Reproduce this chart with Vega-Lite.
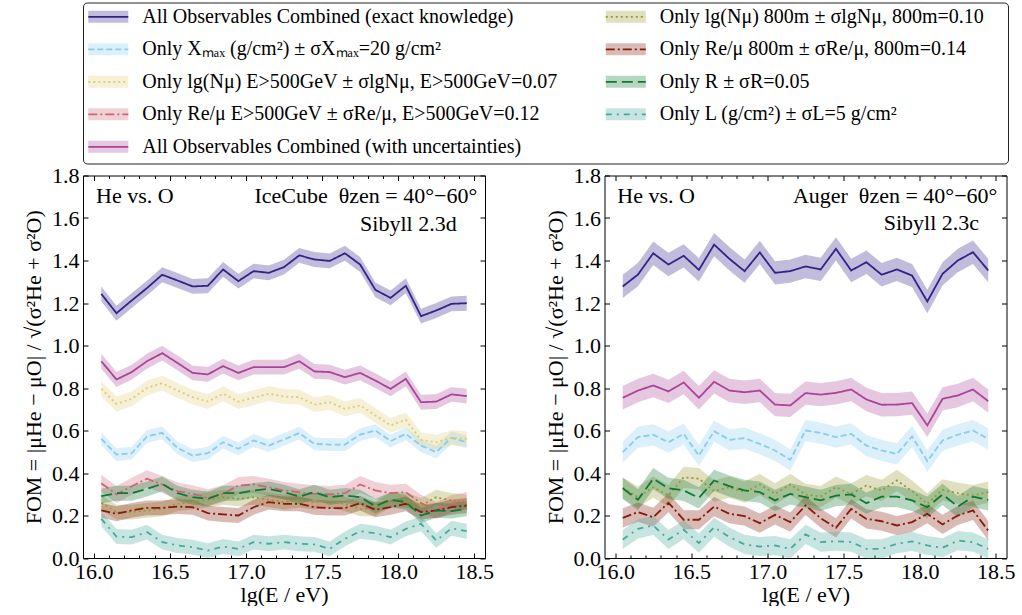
{
"$schema": "https://vega.github.io/schema/vega-lite/v6.json",
"padding": {"left": 22, "top": 1.5, "right": 0, "bottom": 0},
"config": {
  "font": "Liberation Serif",
  "view": {"stroke": "#000", "strokeWidth": 1},
  "axis": {"grid": false, "domain": false, "labelFontSize": 22, "titleFontSize": 22, "labelColor": "#000", "titleColor": "#000", "tickColor": "#000", "titleFontWeight": "normal", "labelFont": "Liberation Serif", "titleFont": "Liberation Serif", "tickWidth": 1, "labelOverlap": false, "labelFlush": false}
},
"datasets": {
"leg": [
{"s":"exact","c":0,"r":0,"t":"All Observables Combined (exact knowledge)"},
{"s":"xmax","c":0,"r":1,"t":"Only Xₘₐₓ (g/cm²) ± σXₘₐₓ=20 g/cm²"},
{"s":"nmu500","c":0,"r":2,"t":"Only lg(Nμ) E>500GeV ± σlgNμ, E>500GeV=0.07"},
{"s":"rmu500","c":0,"r":3,"t":"Only Re/μ E>500GeV ± σRe/μ, E>500GeV=0.12"},
{"s":"unc","c":0,"r":4,"t":"All Observables Combined (with uncertainties)"},
{"s":"nmu800","c":1,"r":0,"t":"Only lg(Nμ) 800m ± σlgNμ, 800m=0.10"},
{"s":"rmu800","c":1,"r":1,"t":"Only Re/μ 800m ± σRe/μ, 800m=0.14"},
{"s":"r","c":1,"r":2,"t":"Only R ± σR=0.05"},
{"s":"l","c":1,"r":3,"t":"Only L (g/cm²) ± σL=5 g/cm²"}
],
"annL": [
{"t":"He vs. O","x":16.016,"y":1.671,"a":"l"},
{"t":"IceCube\u2002θzen = 40°−60°","x":18.519,"y":1.671,"a":"r"},
{"t":"Sibyll 2.3d","x":18.384,"y":1.541,"a":"r"}
],
"annR": [
{"t":"He vs. O","x":16.014,"y":1.671,"a":"l"},
{"t":"Auger\u2002θzen = 40°−60°","x":18.51,"y":1.671,"a":"r"},
{"t":"Sibyll 2.3c","x":18.39,"y":1.545,"a":"r"}
],
"left": [
{"s":"exact","x":16.05,"y":1.243,"e":0.035},{"s":"exact","x":16.15,"y":1.152,"e":0.035},{"s":"exact","x":16.25,"y":1.212,"e":0.035},{"s":"exact","x":16.35,"y":1.27,"e":0.035},{"s":"exact","x":16.45,"y":1.333,"e":0.035},{"s":"exact","x":16.55,"y":1.306,"e":0.035},{"s":"exact","x":16.65,"y":1.278,"e":0.035},{"s":"exact","x":16.75,"y":1.281,"e":0.035},{"s":"exact","x":16.85,"y":1.358,"e":0.035},{"s":"exact","x":16.95,"y":1.303,"e":0.035},{"s":"exact","x":17.05,"y":1.35,"e":0.035},{"s":"exact","x":17.15,"y":1.342,"e":0.035},{"s":"exact","x":17.25,"y":1.369,"e":0.035},{"s":"exact","x":17.35,"y":1.424,"e":0.035},{"s":"exact","x":17.45,"y":1.405,"e":0.035},{"s":"exact","x":17.55,"y":1.398,"e":0.035},{"s":"exact","x":17.65,"y":1.434,"e":0.035},{"s":"exact","x":17.75,"y":1.381,"e":0.035},{"s":"exact","x":17.85,"y":1.262,"e":0.035},{"s":"exact","x":17.95,"y":1.224,"e":0.035},{"s":"exact","x":18.05,"y":1.281,"e":0.035},{"s":"exact","x":18.15,"y":1.138,"e":0.035},{"s":"exact","x":18.25,"y":1.165,"e":0.035},{"s":"exact","x":18.35,"y":1.196,"e":0.035},{"s":"exact","x":18.45,"y":1.199,"e":0.035},
{"s":"xmax","x":16.05,"y":0.561,"e":0.03},{"s":"xmax","x":16.15,"y":0.487,"e":0.03},{"s":"xmax","x":16.25,"y":0.493,"e":0.03},{"s":"xmax","x":16.35,"y":0.572,"e":0.03},{"s":"xmax","x":16.45,"y":0.589,"e":0.03},{"s":"xmax","x":16.55,"y":0.518,"e":0.03},{"s":"xmax","x":16.65,"y":0.482,"e":0.03},{"s":"xmax","x":16.75,"y":0.493,"e":0.03},{"s":"xmax","x":16.85,"y":0.545,"e":0.03},{"s":"xmax","x":16.95,"y":0.514,"e":0.03},{"s":"xmax","x":17.05,"y":0.553,"e":0.03},{"s":"xmax","x":17.15,"y":0.529,"e":0.03},{"s":"xmax","x":17.25,"y":0.558,"e":0.03},{"s":"xmax","x":17.35,"y":0.588,"e":0.03},{"s":"xmax","x":17.45,"y":0.537,"e":0.03},{"s":"xmax","x":17.55,"y":0.534,"e":0.03},{"s":"xmax","x":17.65,"y":0.534,"e":0.03},{"s":"xmax","x":17.75,"y":0.581,"e":0.03},{"s":"xmax","x":17.85,"y":0.6,"e":0.03},{"s":"xmax","x":17.95,"y":0.55,"e":0.03},{"s":"xmax","x":18.05,"y":0.584,"e":0.03},{"s":"xmax","x":18.15,"y":0.529,"e":0.03},{"s":"xmax","x":18.25,"y":0.498,"e":0.03},{"s":"xmax","x":18.35,"y":0.566,"e":0.03},{"s":"xmax","x":18.45,"y":0.545,"e":0.03},
{"s":"nmu500","x":16.05,"y":0.796,"e":0.035},{"s":"nmu500","x":16.15,"y":0.725,"e":0.035},{"s":"nmu500","x":16.25,"y":0.749,"e":0.035},{"s":"nmu500","x":16.35,"y":0.8,"e":0.035},{"s":"nmu500","x":16.45,"y":0.823,"e":0.035},{"s":"nmu500","x":16.55,"y":0.788,"e":0.035},{"s":"nmu500","x":16.65,"y":0.757,"e":0.035},{"s":"nmu500","x":16.75,"y":0.736,"e":0.035},{"s":"nmu500","x":16.85,"y":0.773,"e":0.035},{"s":"nmu500","x":16.95,"y":0.736,"e":0.035},{"s":"nmu500","x":17.05,"y":0.754,"e":0.035},{"s":"nmu500","x":17.15,"y":0.773,"e":0.035},{"s":"nmu500","x":17.25,"y":0.76,"e":0.035},{"s":"nmu500","x":17.35,"y":0.757,"e":0.035},{"s":"nmu500","x":17.45,"y":0.722,"e":0.035},{"s":"nmu500","x":17.55,"y":0.733,"e":0.035},{"s":"nmu500","x":17.65,"y":0.702,"e":0.035},{"s":"nmu500","x":17.75,"y":0.718,"e":0.035},{"s":"nmu500","x":17.85,"y":0.671,"e":0.035},{"s":"nmu500","x":17.95,"y":0.624,"e":0.035},{"s":"nmu500","x":18.05,"y":0.65,"e":0.035},{"s":"nmu500","x":18.15,"y":0.556,"e":0.035},{"s":"nmu500","x":18.25,"y":0.545,"e":0.035},{"s":"nmu500","x":18.35,"y":0.566,"e":0.035},{"s":"nmu500","x":18.45,"y":0.561,"e":0.035},
{"s":"rmu500","x":16.05,"y":0.352,"e":0.04},{"s":"rmu500","x":16.15,"y":0.299,"e":0.04},{"s":"rmu500","x":16.25,"y":0.338,"e":0.04},{"s":"rmu500","x":16.35,"y":0.373,"e":0.04},{"s":"rmu500","x":16.45,"y":0.346,"e":0.04},{"s":"rmu500","x":16.55,"y":0.315,"e":0.04},{"s":"rmu500","x":16.65,"y":0.302,"e":0.04},{"s":"rmu500","x":16.75,"y":0.283,"e":0.04},{"s":"rmu500","x":16.85,"y":0.302,"e":0.04},{"s":"rmu500","x":16.95,"y":0.341,"e":0.04},{"s":"rmu500","x":17.05,"y":0.346,"e":0.04},{"s":"rmu500","x":17.15,"y":0.333,"e":0.04},{"s":"rmu500","x":17.25,"y":0.318,"e":0.04},{"s":"rmu500","x":17.35,"y":0.31,"e":0.04},{"s":"rmu500","x":17.45,"y":0.302,"e":0.04},{"s":"rmu500","x":17.55,"y":0.299,"e":0.04},{"s":"rmu500","x":17.65,"y":0.305,"e":0.04},{"s":"rmu500","x":17.75,"y":0.346,"e":0.04},{"s":"rmu500","x":17.85,"y":0.318,"e":0.04},{"s":"rmu500","x":17.95,"y":0.305,"e":0.04},{"s":"rmu500","x":18.05,"y":0.31,"e":0.04},{"s":"rmu500","x":18.15,"y":0.258,"e":0.04},{"s":"rmu500","x":18.25,"y":0.224,"e":0.04},{"s":"rmu500","x":18.35,"y":0.255,"e":0.04},{"s":"rmu500","x":18.45,"y":0.271,"e":0.04},
{"s":"unc","x":16.05,"y":0.926,"e":0.035},{"s":"unc","x":16.15,"y":0.84,"e":0.035},{"s":"unc","x":16.25,"y":0.875,"e":0.035},{"s":"unc","x":16.35,"y":0.926,"e":0.035},{"s":"unc","x":16.45,"y":0.964,"e":0.035},{"s":"unc","x":16.55,"y":0.918,"e":0.035},{"s":"unc","x":16.65,"y":0.871,"e":0.035},{"s":"unc","x":16.75,"y":0.864,"e":0.035},{"s":"unc","x":16.85,"y":0.903,"e":0.035},{"s":"unc","x":16.95,"y":0.871,"e":0.035},{"s":"unc","x":17.05,"y":0.898,"e":0.035},{"s":"unc","x":17.15,"y":0.898,"e":0.035},{"s":"unc","x":17.25,"y":0.898,"e":0.035},{"s":"unc","x":17.35,"y":0.926,"e":0.035},{"s":"unc","x":17.45,"y":0.878,"e":0.035},{"s":"unc","x":17.55,"y":0.875,"e":0.035},{"s":"unc","x":17.65,"y":0.851,"e":0.035},{"s":"unc","x":17.75,"y":0.871,"e":0.035},{"s":"unc","x":17.85,"y":0.835,"e":0.035},{"s":"unc","x":17.95,"y":0.796,"e":0.035},{"s":"unc","x":18.05,"y":0.843,"e":0.035},{"s":"unc","x":18.15,"y":0.733,"e":0.035},{"s":"unc","x":18.25,"y":0.736,"e":0.035},{"s":"unc","x":18.35,"y":0.77,"e":0.035},{"s":"unc","x":18.45,"y":0.762,"e":0.035},
{"s":"nmu800","x":16.05,"y":0.26,"e":0.035},{"s":"nmu800","x":16.15,"y":0.216,"e":0.035},{"s":"nmu800","x":16.25,"y":0.216,"e":0.035},{"s":"nmu800","x":16.35,"y":0.224,"e":0.035},{"s":"nmu800","x":16.45,"y":0.231,"e":0.035},{"s":"nmu800","x":16.55,"y":0.255,"e":0.035},{"s":"nmu800","x":16.65,"y":0.263,"e":0.035},{"s":"nmu800","x":16.75,"y":0.274,"e":0.035},{"s":"nmu800","x":16.85,"y":0.286,"e":0.035},{"s":"nmu800","x":16.95,"y":0.278,"e":0.035},{"s":"nmu800","x":17.05,"y":0.286,"e":0.035},{"s":"nmu800","x":17.15,"y":0.274,"e":0.035},{"s":"nmu800","x":17.25,"y":0.263,"e":0.035},{"s":"nmu800","x":17.35,"y":0.271,"e":0.035},{"s":"nmu800","x":17.45,"y":0.263,"e":0.035},{"s":"nmu800","x":17.55,"y":0.271,"e":0.035},{"s":"nmu800","x":17.65,"y":0.255,"e":0.035},{"s":"nmu800","x":17.75,"y":0.231,"e":0.035},{"s":"nmu800","x":17.85,"y":0.231,"e":0.035},{"s":"nmu800","x":17.95,"y":0.274,"e":0.035},{"s":"nmu800","x":18.05,"y":0.274,"e":0.035},{"s":"nmu800","x":18.15,"y":0.247,"e":0.035},{"s":"nmu800","x":18.25,"y":0.286,"e":0.035},{"s":"nmu800","x":18.35,"y":0.271,"e":0.035},{"s":"nmu800","x":18.45,"y":0.263,"e":0.035},
{"s":"rmu800","x":16.05,"y":0.224,"e":0.035},{"s":"rmu800","x":16.15,"y":0.208,"e":0.035},{"s":"rmu800","x":16.25,"y":0.224,"e":0.035},{"s":"rmu800","x":16.35,"y":0.236,"e":0.035},{"s":"rmu800","x":16.45,"y":0.236,"e":0.035},{"s":"rmu800","x":16.55,"y":0.242,"e":0.035},{"s":"rmu800","x":16.65,"y":0.239,"e":0.035},{"s":"rmu800","x":16.75,"y":0.211,"e":0.035},{"s":"rmu800","x":16.85,"y":0.205,"e":0.035},{"s":"rmu800","x":16.95,"y":0.2,"e":0.035},{"s":"rmu800","x":17.05,"y":0.239,"e":0.035},{"s":"rmu800","x":17.15,"y":0.263,"e":0.035},{"s":"rmu800","x":17.25,"y":0.255,"e":0.035},{"s":"rmu800","x":17.35,"y":0.255,"e":0.035},{"s":"rmu800","x":17.45,"y":0.239,"e":0.035},{"s":"rmu800","x":17.55,"y":0.235,"e":0.035},{"s":"rmu800","x":17.65,"y":0.235,"e":0.035},{"s":"rmu800","x":17.75,"y":0.258,"e":0.035},{"s":"rmu800","x":17.85,"y":0.227,"e":0.035},{"s":"rmu800","x":17.95,"y":0.239,"e":0.035},{"s":"rmu800","x":18.05,"y":0.255,"e":0.035},{"s":"rmu800","x":18.15,"y":0.216,"e":0.035},{"s":"rmu800","x":18.25,"y":0.224,"e":0.035},{"s":"rmu800","x":18.35,"y":0.239,"e":0.035},{"s":"rmu800","x":18.45,"y":0.247,"e":0.035},
{"s":"r","x":16.05,"y":0.291,"e":0.035},{"s":"r","x":16.15,"y":0.305,"e":0.035},{"s":"r","x":16.25,"y":0.305,"e":0.035},{"s":"r","x":16.35,"y":0.325,"e":0.035},{"s":"r","x":16.45,"y":0.349,"e":0.035},{"s":"r","x":16.55,"y":0.305,"e":0.035},{"s":"r","x":16.65,"y":0.286,"e":0.035},{"s":"r","x":16.75,"y":0.278,"e":0.035},{"s":"r","x":16.85,"y":0.305,"e":0.035},{"s":"r","x":16.95,"y":0.305,"e":0.035},{"s":"r","x":17.05,"y":0.318,"e":0.035},{"s":"r","x":17.15,"y":0.325,"e":0.035},{"s":"r","x":17.25,"y":0.31,"e":0.035},{"s":"r","x":17.35,"y":0.289,"e":0.035},{"s":"r","x":17.45,"y":0.31,"e":0.035},{"s":"r","x":17.55,"y":0.286,"e":0.035},{"s":"r","x":17.65,"y":0.294,"e":0.035},{"s":"r","x":17.75,"y":0.286,"e":0.035},{"s":"r","x":17.85,"y":0.244,"e":0.035},{"s":"r","x":17.95,"y":0.274,"e":0.035},{"s":"r","x":18.05,"y":0.263,"e":0.035},{"s":"r","x":18.15,"y":0.2,"e":0.035},{"s":"r","x":18.25,"y":0.224,"e":0.035},{"s":"r","x":18.35,"y":0.221,"e":0.035},{"s":"r","x":18.45,"y":0.231,"e":0.035},
{"s":"l","x":16.05,"y":0.184,"e":0.035},{"s":"l","x":16.15,"y":0.101,"e":0.035},{"s":"l","x":16.25,"y":0.098,"e":0.035},{"s":"l","x":16.35,"y":0.122,"e":0.035},{"s":"l","x":16.45,"y":0.075,"e":0.035},{"s":"l","x":16.55,"y":0.059,"e":0.035},{"s":"l","x":16.65,"y":0.051,"e":0.035},{"s":"l","x":16.75,"y":0.035,"e":0.035},{"s":"l","x":16.85,"y":0.054,"e":0.035},{"s":"l","x":16.95,"y":0.043,"e":0.035},{"s":"l","x":17.05,"y":0.075,"e":0.035},{"s":"l","x":17.15,"y":0.067,"e":0.035},{"s":"l","x":17.25,"y":0.075,"e":0.035},{"s":"l","x":17.35,"y":0.067,"e":0.035},{"s":"l","x":17.45,"y":0.064,"e":0.035},{"s":"l","x":17.55,"y":0.043,"e":0.035},{"s":"l","x":17.65,"y":0.09,"e":0.035},{"s":"l","x":17.75,"y":0.126,"e":0.035},{"s":"l","x":17.85,"y":0.117,"e":0.035},{"s":"l","x":17.95,"y":0.098,"e":0.035},{"s":"l","x":18.05,"y":0.137,"e":0.035},{"s":"l","x":18.15,"y":0.161,"e":0.035},{"s":"l","x":18.25,"y":0.082,"e":0.035},{"s":"l","x":18.35,"y":0.14,"e":0.035},{"s":"l","x":18.45,"y":0.126,"e":0.035}
],
"right": [
{"s":"exact","x":16.05,"y":1.278,"e":0.055},{"s":"exact","x":16.15,"y":1.334,"e":0.055},{"s":"exact","x":16.25,"y":1.434,"e":0.055},{"s":"exact","x":16.35,"y":1.381,"e":0.055},{"s":"exact","x":16.45,"y":1.422,"e":0.055},{"s":"exact","x":16.55,"y":1.356,"e":0.055},{"s":"exact","x":16.65,"y":1.475,"e":0.055},{"s":"exact","x":16.75,"y":1.408,"e":0.055},{"s":"exact","x":16.85,"y":1.35,"e":0.055},{"s":"exact","x":16.95,"y":1.438,"e":0.055},{"s":"exact","x":17.05,"y":1.342,"e":0.055},{"s":"exact","x":17.15,"y":1.35,"e":0.055},{"s":"exact","x":17.25,"y":1.372,"e":0.055},{"s":"exact","x":17.35,"y":1.358,"e":0.055},{"s":"exact","x":17.45,"y":1.455,"e":0.055},{"s":"exact","x":17.55,"y":1.353,"e":0.055},{"s":"exact","x":17.65,"y":1.392,"e":0.055},{"s":"exact","x":17.75,"y":1.333,"e":0.055},{"s":"exact","x":17.85,"y":1.358,"e":0.055},{"s":"exact","x":17.95,"y":1.329,"e":0.055},{"s":"exact","x":18.05,"y":1.207,"e":0.055},{"s":"exact","x":18.15,"y":1.337,"e":0.055},{"s":"exact","x":18.25,"y":1.4,"e":0.055},{"s":"exact","x":18.35,"y":1.439,"e":0.055},{"s":"exact","x":18.45,"y":1.353,"e":0.055},
{"s":"xmax","x":16.05,"y":0.498,"e":0.05},{"s":"xmax","x":16.15,"y":0.569,"e":0.05},{"s":"xmax","x":16.25,"y":0.58,"e":0.05},{"s":"xmax","x":16.35,"y":0.545,"e":0.05},{"s":"xmax","x":16.45,"y":0.584,"e":0.05},{"s":"xmax","x":16.55,"y":0.482,"e":0.05},{"s":"xmax","x":16.65,"y":0.597,"e":0.05},{"s":"xmax","x":16.75,"y":0.556,"e":0.05},{"s":"xmax","x":16.85,"y":0.564,"e":0.05},{"s":"xmax","x":16.95,"y":0.537,"e":0.05},{"s":"xmax","x":17.05,"y":0.506,"e":0.05},{"s":"xmax","x":17.15,"y":0.462,"e":0.05},{"s":"xmax","x":17.25,"y":0.6,"e":0.05},{"s":"xmax","x":17.35,"y":0.588,"e":0.05},{"s":"xmax","x":17.45,"y":0.569,"e":0.05},{"s":"xmax","x":17.55,"y":0.584,"e":0.05},{"s":"xmax","x":17.65,"y":0.529,"e":0.05},{"s":"xmax","x":17.75,"y":0.506,"e":0.05},{"s":"xmax","x":17.85,"y":0.49,"e":0.05},{"s":"xmax","x":17.95,"y":0.572,"e":0.05},{"s":"xmax","x":18.05,"y":0.456,"e":0.05},{"s":"xmax","x":18.15,"y":0.553,"e":0.05},{"s":"xmax","x":18.25,"y":0.58,"e":0.05},{"s":"xmax","x":18.35,"y":0.6,"e":0.05},{"s":"xmax","x":18.45,"y":0.561,"e":0.05},
{"s":"unc","x":16.05,"y":0.754,"e":0.055},{"s":"unc","x":16.15,"y":0.788,"e":0.055},{"s":"unc","x":16.25,"y":0.812,"e":0.055},{"s":"unc","x":16.35,"y":0.784,"e":0.055},{"s":"unc","x":16.45,"y":0.826,"e":0.055},{"s":"unc","x":16.55,"y":0.754,"e":0.055},{"s":"unc","x":16.65,"y":0.829,"e":0.055},{"s":"unc","x":16.75,"y":0.788,"e":0.055},{"s":"unc","x":16.85,"y":0.78,"e":0.055},{"s":"unc","x":16.95,"y":0.788,"e":0.055},{"s":"unc","x":17.05,"y":0.722,"e":0.055},{"s":"unc","x":17.15,"y":0.718,"e":0.055},{"s":"unc","x":17.25,"y":0.776,"e":0.055},{"s":"unc","x":17.35,"y":0.769,"e":0.055},{"s":"unc","x":17.45,"y":0.777,"e":0.055},{"s":"unc","x":17.55,"y":0.793,"e":0.055},{"s":"unc","x":17.65,"y":0.746,"e":0.055},{"s":"unc","x":17.75,"y":0.721,"e":0.055},{"s":"unc","x":17.85,"y":0.722,"e":0.055},{"s":"unc","x":17.95,"y":0.729,"e":0.055},{"s":"unc","x":18.05,"y":0.624,"e":0.055},{"s":"unc","x":18.15,"y":0.749,"e":0.055},{"s":"unc","x":18.25,"y":0.765,"e":0.055},{"s":"unc","x":18.35,"y":0.793,"e":0.055},{"s":"unc","x":18.45,"y":0.738,"e":0.055},
{"s":"nmu800","x":16.05,"y":0.33,"e":0.05},{"s":"nmu800","x":16.15,"y":0.286,"e":0.05},{"s":"nmu800","x":16.25,"y":0.333,"e":0.05},{"s":"nmu800","x":16.35,"y":0.294,"e":0.05},{"s":"nmu800","x":16.45,"y":0.38,"e":0.05},{"s":"nmu800","x":16.55,"y":0.373,"e":0.05},{"s":"nmu800","x":16.65,"y":0.315,"e":0.05},{"s":"nmu800","x":16.75,"y":0.333,"e":0.05},{"s":"nmu800","x":16.85,"y":0.31,"e":0.05},{"s":"nmu800","x":16.95,"y":0.346,"e":0.05},{"s":"nmu800","x":17.05,"y":0.302,"e":0.05},{"s":"nmu800","x":17.15,"y":0.346,"e":0.05},{"s":"nmu800","x":17.25,"y":0.299,"e":0.05},{"s":"nmu800","x":17.35,"y":0.289,"e":0.05},{"s":"nmu800","x":17.45,"y":0.333,"e":0.05},{"s":"nmu800","x":17.55,"y":0.302,"e":0.05},{"s":"nmu800","x":17.65,"y":0.341,"e":0.05},{"s":"nmu800","x":17.75,"y":0.318,"e":0.05},{"s":"nmu800","x":17.85,"y":0.365,"e":0.05},{"s":"nmu800","x":17.95,"y":0.315,"e":0.05},{"s":"nmu800","x":18.05,"y":0.255,"e":0.05},{"s":"nmu800","x":18.15,"y":0.321,"e":0.05},{"s":"nmu800","x":18.25,"y":0.305,"e":0.05},{"s":"nmu800","x":18.35,"y":0.294,"e":0.05},{"s":"nmu800","x":18.45,"y":0.31,"e":0.05},
{"s":"rmu800","x":16.05,"y":0.189,"e":0.045},{"s":"rmu800","x":16.15,"y":0.216,"e":0.045},{"s":"rmu800","x":16.25,"y":0.192,"e":0.045},{"s":"rmu800","x":16.35,"y":0.26,"e":0.045},{"s":"rmu800","x":16.45,"y":0.18,"e":0.045},{"s":"rmu800","x":16.55,"y":0.18,"e":0.045},{"s":"rmu800","x":16.65,"y":0.242,"e":0.045},{"s":"rmu800","x":16.75,"y":0.208,"e":0.045},{"s":"rmu800","x":16.85,"y":0.197,"e":0.045},{"s":"rmu800","x":16.95,"y":0.164,"e":0.045},{"s":"rmu800","x":17.05,"y":0.203,"e":0.045},{"s":"rmu800","x":17.15,"y":0.169,"e":0.045},{"s":"rmu800","x":17.25,"y":0.247,"e":0.045},{"s":"rmu800","x":17.35,"y":0.187,"e":0.045},{"s":"rmu800","x":17.45,"y":0.142,"e":0.045},{"s":"rmu800","x":17.55,"y":0.231,"e":0.045},{"s":"rmu800","x":17.65,"y":0.184,"e":0.045},{"s":"rmu800","x":17.75,"y":0.173,"e":0.045},{"s":"rmu800","x":17.85,"y":0.153,"e":0.045},{"s":"rmu800","x":17.95,"y":0.169,"e":0.045},{"s":"rmu800","x":18.05,"y":0.208,"e":0.045},{"s":"rmu800","x":18.15,"y":0.158,"e":0.045},{"s":"rmu800","x":18.25,"y":0.2,"e":0.045},{"s":"rmu800","x":18.35,"y":0.224,"e":0.045},{"s":"rmu800","x":18.45,"y":0.129,"e":0.045},
{"s":"r","x":16.05,"y":0.328,"e":0.05},{"s":"r","x":16.15,"y":0.274,"e":0.05},{"s":"r","x":16.25,"y":0.373,"e":0.05},{"s":"r","x":16.35,"y":0.328,"e":0.05},{"s":"r","x":16.45,"y":0.318,"e":0.05},{"s":"r","x":16.55,"y":0.283,"e":0.05},{"s":"r","x":16.65,"y":0.365,"e":0.05},{"s":"r","x":16.75,"y":0.338,"e":0.05},{"s":"r","x":16.85,"y":0.318,"e":0.05},{"s":"r","x":16.95,"y":0.31,"e":0.05},{"s":"r","x":17.05,"y":0.271,"e":0.05},{"s":"r","x":17.15,"y":0.302,"e":0.05},{"s":"r","x":17.25,"y":0.286,"e":0.05},{"s":"r","x":17.35,"y":0.271,"e":0.05},{"s":"r","x":17.45,"y":0.294,"e":0.05},{"s":"r","x":17.55,"y":0.299,"e":0.05},{"s":"r","x":17.65,"y":0.258,"e":0.05},{"s":"r","x":17.75,"y":0.289,"e":0.05},{"s":"r","x":17.85,"y":0.289,"e":0.05},{"s":"r","x":17.95,"y":0.271,"e":0.05},{"s":"r","x":18.05,"y":0.239,"e":0.05},{"s":"r","x":18.15,"y":0.299,"e":0.05},{"s":"r","x":18.25,"y":0.242,"e":0.05},{"s":"r","x":18.35,"y":0.289,"e":0.05},{"s":"r","x":18.45,"y":0.274,"e":0.05},
{"s":"l","x":16.05,"y":0.087,"e":0.045},{"s":"l","x":16.15,"y":0.137,"e":0.045},{"s":"l","x":16.25,"y":0.153,"e":0.045},{"s":"l","x":16.35,"y":0.087,"e":0.045},{"s":"l","x":16.45,"y":0.133,"e":0.045},{"s":"l","x":16.55,"y":0.07,"e":0.045},{"s":"l","x":16.65,"y":0.145,"e":0.045},{"s":"l","x":16.75,"y":0.098,"e":0.045},{"s":"l","x":16.85,"y":0.064,"e":0.045},{"s":"l","x":16.95,"y":0.054,"e":0.045},{"s":"l","x":17.05,"y":0.059,"e":0.045},{"s":"l","x":17.15,"y":0.043,"e":0.045},{"s":"l","x":17.25,"y":0.111,"e":0.045},{"s":"l","x":17.35,"y":0.075,"e":0.045},{"s":"l","x":17.45,"y":0.079,"e":0.045},{"s":"l","x":17.55,"y":0.075,"e":0.045},{"s":"l","x":17.65,"y":0.043,"e":0.045},{"s":"l","x":17.75,"y":0.043,"e":0.045},{"s":"l","x":17.85,"y":0.067,"e":0.045},{"s":"l","x":17.95,"y":0.078,"e":0.045},{"s":"l","x":18.05,"y":0.059,"e":0.045},{"s":"l","x":18.15,"y":0.048,"e":0.045},{"s":"l","x":18.25,"y":0.082,"e":0.045},{"s":"l","x":18.35,"y":0.075,"e":0.045},{"s":"l","x":18.45,"y":0.043,"e":0.045}
]
},
"vconcat": [
{
  "width": 925, "height": 161,
  "data": {"name": "leg"},
  "view": {"stroke": "#222", "strokeWidth": 1, "cornerRadius": 4},
  "encoding": {
    "x": {"field": "c", "type": "quantitative", "scale": {"domain": [0, 1], "range": [25.3, 542.8]}, "axis": null},
    "y": {"field": "r", "type": "quantitative", "scale": {"domain": [0, 4], "range": [14.3, 144.3]}, "axis": null}
  },
  "layer": [
    {"mark": {"type": "point", "shape": "M-1,-0.3H1V0.3H-1Z", "size": 1600, "filled": true, "opacity": 0.3, "strokeWidth": 0},
     "encoding": {"color": {"field": "s", "type": "nominal", "legend": null, "scale": {"domain": ["exact","xmax","nmu500","rmu500","unc","nmu800","rmu800","r","l"], "range": ["#332288","#88CCEE","#DDCC77","#CC6677","#AA4499","#999933","#861a0b","#117733","#44AA99"]}}}},
    {"mark": {"type": "point", "shape": "M-1,0H1", "size": 1600, "filled": false, "opacity": 1, "strokeWidth": 1.8},
     "encoding": {"color": {"field": "s", "type": "nominal", "legend": null, "scale": {"domain": ["exact","xmax","nmu500","rmu500","unc","nmu800","rmu800","r","l"], "range": ["#332288","#88CCEE","#DDCC77","#CC6677","#AA4499","#999933","#861a0b","#117733","#44AA99"]}},
      "strokeDash": {"field": "s", "type": "nominal", "legend": null, "scale": {"domain": ["exact","xmax","nmu500","rmu500","unc","nmu800","rmu800","r","l"], "range": [[1,0],[6,3],[2,3],[9,3,2,3],[1,0],[2,3],[9,3,2,3],[11,5],[6,5,2,5]]}}}},
    {"mark": {"type": "text", "align": "left", "baseline": "middle", "dx": 34, "fontSize": 20, "color": "#000"},
     "encoding": {"text": {"field": "t"}}}
  ]
},
{
  "bounds": "flush",
  "spacing": 119.5,
  "hconcat": [
  {
    "width": 402, "height": 382.5,
    "data": {"name": "left"},
    "layer": [
      {"mark": {"type": "errorband", "band": {"opacity": 0.3}},
       "encoding": {
        "x": {"field": "x", "type": "quantitative", "scale": {"domain": [15.93, 18.57], "nice": false, "zero": false}, "axis": null},
        "y": {"field": "y", "type": "quantitative", "scale": {"domain": [0, 1.8], "nice": false, "zero": false}, "axis": null},
        "yError": {"field": "e"},
        "color": {"field": "s", "type": "nominal", "legend": null, "scale": {"domain": ["exact","xmax","nmu500","rmu500","unc","nmu800","rmu800","r","l"], "range": ["#332288","#88CCEE","#DDCC77","#CC6677","#AA4499","#999933","#861a0b","#117733","#44AA99"]}}
       }},
      {"mark": {"type": "line", "strokeWidth": 1.8},
       "encoding": {
        "x": {"field": "x", "type": "quantitative", "scale": {"domain": [15.93, 18.57], "nice": false, "zero": false},
              "axis": {"orient": "bottom", "title": "lg(E / eV)", "values": [16,16.1,16.2,16.3,16.4,16.5,16.6,16.7,16.8,16.9,17,17.1,17.2,17.3,17.4,17.5,17.6,17.7,17.8,17.9,18,18.1,18.2,18.3,18.4,18.5],
                       "tickSize": {"condition": {"test": "abs(datum.value*2-round(datum.value*2))<0.01", "value": -5}, "value": -3},
                       "labelExpr": "abs(datum.value*2-round(datum.value*2))<0.01 ? format(datum.value,'.1f') : ''",
                       "labelPadding": 8, "titlePadding": 0}},
        "y": {"field": "y", "type": "quantitative", "scale": {"domain": [0, 1.8], "nice": false, "zero": false},
              "axis": {"orient": "left", "title": "FOM = |μHe − μO| / √(σ²He + σ²O)", "values": [0,0.2,0.4,0.6,0.8,1.0,1.2,1.4,1.6,1.8], "format": ".1f", "tickSize": -5, "labelPadding": 9, "titlePadding": 6}},
        "color": {"field": "s", "type": "nominal", "legend": null, "scale": {"domain": ["exact","xmax","nmu500","rmu500","unc","nmu800","rmu800","r","l"], "range": ["#332288","#88CCEE","#DDCC77","#CC6677","#AA4499","#999933","#861a0b","#117733","#44AA99"]}},
        "strokeDash": {"field": "s", "type": "nominal", "legend": null, "scale": {"domain": ["exact","xmax","nmu500","rmu500","unc","nmu800","rmu800","r","l"], "range": [[1,0],[6,3],[2,3],[9,3,2,3],[1,0],[2,3],[9,3,2,3],[11,5],[6,5,2,5]]}}
       }},
      {"data": {"name": "annL"}, "transform": [{"filter": "datum.a == 'r'"}],
       "mark": {"type": "text", "align": "right", "baseline": "alphabetic", "fontSize": 22, "color": "#000"},
       "encoding": {
        "x": {"field": "x", "type": "quantitative", "scale": {"domain": [15.93, 18.57], "nice": false, "zero": false},
              "axis": {"orient": "top", "title": null, "labels": false, "values": [16,16.1,16.2,16.3,16.4,16.5,16.6,16.7,16.8,16.9,17,17.1,17.2,17.3,17.4,17.5,17.6,17.7,17.8,17.9,18,18.1,18.2,18.3,18.4,18.5],
                       "tickSize": {"condition": {"test": "abs(datum.value*2-round(datum.value*2))<0.01", "value": -5}, "value": -3}}},
        "y": {"field": "y", "type": "quantitative", "scale": {"domain": [0, 1.8], "nice": false, "zero": false},
              "axis": {"orient": "right", "title": null, "labels": false, "values": [0,0.2,0.4,0.6,0.8,1.0,1.2,1.4,1.6,1.8], "tickSize": -5}},
        "text": {"field": "t"}
       }},
      {"data": {"name": "annL"}, "transform": [{"filter": "datum.a == 'l'"}],
       "mark": {"type": "text", "align": "left", "baseline": "alphabetic", "fontSize": 22, "color": "#000"},
       "encoding": {
        "x": {"field": "x", "type": "quantitative", "scale": {"domain": [15.93, 18.57], "nice": false, "zero": false}, "axis": null},
        "y": {"field": "y", "type": "quantitative", "scale": {"domain": [0, 1.8], "nice": false, "zero": false}, "axis": null},
        "text": {"field": "t"}
       }}
    ],
    "resolve": {"axis": {"x": "independent", "y": "independent"}}
  },
  {
    "width": 402, "height": 382.5,
    "data": {"name": "right"},
    "layer": [
      {"mark": {"type": "errorband", "band": {"opacity": 0.3}},
       "encoding": {
        "x": {"field": "x", "type": "quantitative", "scale": {"domain": [15.93, 18.57], "nice": false, "zero": false}, "axis": null},
        "y": {"field": "y", "type": "quantitative", "scale": {"domain": [0, 1.8], "nice": false, "zero": false}, "axis": null},
        "yError": {"field": "e"},
        "color": {"field": "s", "type": "nominal", "legend": null, "scale": {"domain": ["exact","xmax","nmu500","rmu500","unc","nmu800","rmu800","r","l"], "range": ["#332288","#88CCEE","#DDCC77","#CC6677","#AA4499","#999933","#861a0b","#117733","#44AA99"]}}
       }},
      {"mark": {"type": "line", "strokeWidth": 1.8},
       "encoding": {
        "x": {"field": "x", "type": "quantitative", "scale": {"domain": [15.93, 18.57], "nice": false, "zero": false},
              "axis": {"orient": "bottom", "title": "lg(E / eV)", "values": [16,16.1,16.2,16.3,16.4,16.5,16.6,16.7,16.8,16.9,17,17.1,17.2,17.3,17.4,17.5,17.6,17.7,17.8,17.9,18,18.1,18.2,18.3,18.4,18.5],
                       "tickSize": {"condition": {"test": "abs(datum.value*2-round(datum.value*2))<0.01", "value": -5}, "value": -3},
                       "labelExpr": "abs(datum.value*2-round(datum.value*2))<0.01 ? format(datum.value,'.1f') : ''",
                       "labelPadding": 8, "titlePadding": 0}},
        "y": {"field": "y", "type": "quantitative", "scale": {"domain": [0, 1.8], "nice": false, "zero": false},
              "axis": {"orient": "left", "title": "FOM = |μHe − μO| / √(σ²He + σ²O)", "values": [0,0.2,0.4,0.6,0.8,1.0,1.2,1.4,1.6,1.8], "format": ".1f", "tickSize": -5, "labelPadding": 9, "titlePadding": 6}},
        "color": {"field": "s", "type": "nominal", "legend": null, "scale": {"domain": ["exact","xmax","nmu500","rmu500","unc","nmu800","rmu800","r","l"], "range": ["#332288","#88CCEE","#DDCC77","#CC6677","#AA4499","#999933","#861a0b","#117733","#44AA99"]}},
        "strokeDash": {"field": "s", "type": "nominal", "legend": null, "scale": {"domain": ["exact","xmax","nmu500","rmu500","unc","nmu800","rmu800","r","l"], "range": [[1,0],[6,3],[2,3],[9,3,2,3],[1,0],[2,3],[9,3,2,3],[11,5],[6,5,2,5]]}}
       }},
      {"data": {"name": "annR"}, "transform": [{"filter": "datum.a == 'r'"}],
       "mark": {"type": "text", "align": "right", "baseline": "alphabetic", "fontSize": 22, "color": "#000"},
       "encoding": {
        "x": {"field": "x", "type": "quantitative", "scale": {"domain": [15.93, 18.57], "nice": false, "zero": false},
              "axis": {"orient": "top", "title": null, "labels": false, "values": [16,16.1,16.2,16.3,16.4,16.5,16.6,16.7,16.8,16.9,17,17.1,17.2,17.3,17.4,17.5,17.6,17.7,17.8,17.9,18,18.1,18.2,18.3,18.4,18.5],
                       "tickSize": {"condition": {"test": "abs(datum.value*2-round(datum.value*2))<0.01", "value": -5}, "value": -3}}},
        "y": {"field": "y", "type": "quantitative", "scale": {"domain": [0, 1.8], "nice": false, "zero": false},
              "axis": {"orient": "right", "title": null, "labels": false, "values": [0,0.2,0.4,0.6,0.8,1.0,1.2,1.4,1.6,1.8], "tickSize": -5}},
        "text": {"field": "t"}
       }},
      {"data": {"name": "annR"}, "transform": [{"filter": "datum.a == 'l'"}],
       "mark": {"type": "text", "align": "left", "baseline": "alphabetic", "fontSize": 22, "color": "#000"},
       "encoding": {
        "x": {"field": "x", "type": "quantitative", "scale": {"domain": [15.93, 18.57], "nice": false, "zero": false}, "axis": null},
        "y": {"field": "y", "type": "quantitative", "scale": {"domain": [0, 1.8], "nice": false, "zero": false}, "axis": null},
        "text": {"field": "t"}
       }}
    ],
    "resolve": {"axis": {"x": "independent", "y": "independent"}}
  }
  ]
}
],
"spacing": 12,
"bounds": "flush"
}
